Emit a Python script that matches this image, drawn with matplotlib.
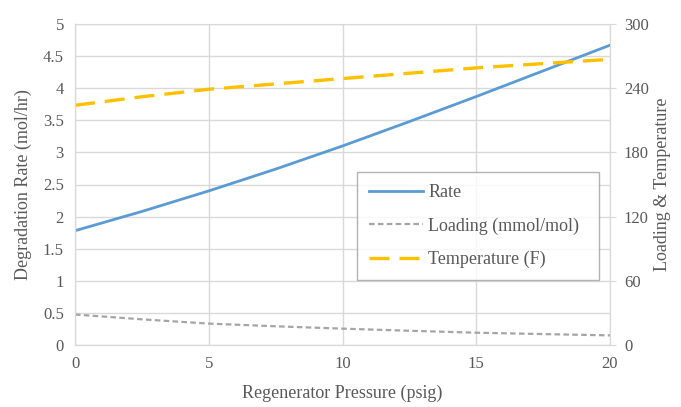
import matplotlib.pyplot as plt

plt.rcParams['font.family'] = ['Liberation Serif', 'DejaVu Serif']

# data
pressure = [0, 2.5, 5, 7.5, 10, 12.5, 15, 17.5, 20]
rate = [1.78, 2.08, 2.40, 2.74, 3.10, 3.48, 3.87, 4.27, 4.67]
loading = [28.5, 24.0, 20.0, 17.5, 15.3, 13.3, 11.5, 10.2, 9.0]
temperature = [224, 232, 239, 244, 249, 254, 259, 263, 267]

left_ticks = [0, 0.5, 1, 1.5, 2, 2.5, 3, 3.5, 4, 4.5, 5]
left_labels = ['0', '0.5', '1', '1.5', '2', '2.5', '3', '3.5', '4', '4.5', '5']
right_ticks = [0, 60, 120, 180, 240, 300]
x_ticks = [0, 5, 10, 15, 20]

grid_c = '#D9D9D9'
txt_c = '#595959'

fig = plt.figure(figsize=(6.81, 4.07), dpi=100)
ax = fig.add_axes([75 / 681, 1 - 345 / 407, 535 / 681, 321 / 407])
ax2 = ax.twinx()

l1, = ax.plot(pressure, rate, color='#5B9BD5', lw=2.0, label='Rate')
l2, = ax2.plot(pressure, loading, color='#A5A5A5', lw=1.6, ls=(0, (2.5, 1.5)),
               label='Loading (mmol/mol)')
l3, = ax2.plot(pressure, temperature, color='#FFC000', lw=2.4, ls=(0, (6, 3)),
               label='Temperature (F)')

ax.set_xlim(0, 20)
ax.set_ylim(0, 5)
ax2.set_ylim(0, 300)
ax.set_xticks(x_ticks)
ax.set_yticks(left_ticks)
ax.set_yticklabels(left_labels)
ax2.set_yticks(right_ticks)

ax.grid(True, color=grid_c, lw=1.0)
ax.set_axisbelow(True)
for a in (ax, ax2):
    for s in a.spines.values():
        s.set_color(grid_c)
ax.tick_params(axis='both', length=0, labelsize=12, labelcolor=txt_c, pad=8)
ax2.tick_params(axis='y', length=4, color=grid_c, labelsize=12, labelcolor=txt_c, pad=6)

ax.set_xlabel('Regenerator Pressure (psig)', fontsize=13, color=txt_c, labelpad=9)
ax.set_ylabel('Degradation Rate (mol/hr)', fontsize=13, color=txt_c, labelpad=8)
ax2.set_ylabel('Loading & Temperature', fontsize=13, color=txt_c, labelpad=4)

leg = ax2.legend(handles=[l1, l2, l3], loc='lower left',
                 bbox_to_anchor=(0.527, 0.2025, 0.452, 0.34), mode='expand',
                 borderaxespad=0, fontsize=13, frameon=True, fancybox=False,
                 borderpad=0.65, handlelength=3.0, labelspacing=0.9,
                 handletextpad=0.3)
leg.get_frame().set_edgecolor('#A0A0A0')
leg.get_frame().set_linewidth(1.0)
for t in leg.get_texts():
    t.set_color(txt_c)

fig.savefig('out.png', dpi=100)
